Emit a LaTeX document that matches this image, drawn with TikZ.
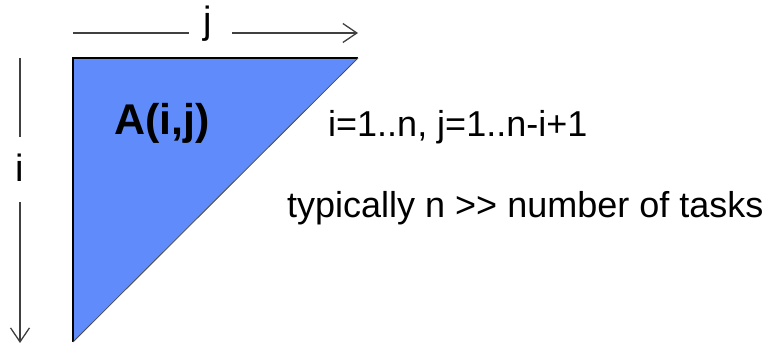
\documentclass[tikz,border=0pt]{standalone}
\usepackage{fontspec}
\setmainfont[Ligatures=NoCommon]{Liberation Sans}
\usetikzlibrary{arrows.meta}
\definecolor{triblue}{HTML}{5F8CFA}
\definecolor{axisgray}{HTML}{404040}
\tikzset{
  axisline/.style={draw=axisgray, line width=1.3pt},
  axisarrow/.style={axisline, -{Straight Barb[length=14pt,width=19pt,line width=1.3pt]}},
  lbl/.style={inner sep=0pt, anchor=base, font=\fontsize{38}{40}\selectfont},
  txt/.style={inner sep=0pt, anchor=base west, font=\fontsize{36}{40}\selectfont},
}
\begin{document}
\begin{tikzpicture}[x=1pt,y=-1pt]
\useasboundingbox (0,0) rectangle (772,344);
% triangle
\coordinate (tl) at (73,58);
\coordinate (tr) at (358,58);
\coordinate (bl) at (73,342);
\fill[triblue] (tl) -- (tr) -- (bl) -- cycle;
\draw[black, line width=1.2pt] (bl) -- (tl) -- (tr);
\draw[black!70, line width=0.8pt] (tr) -- (bl);
% j axis
\node[lbl] (jl) at (208,34) {j};
\coordinate (j0) at (73,33);
\coordinate (j1) at (189,33);
\coordinate (j2) at (232,33);
\coordinate (j3) at (358,33);
\draw[axisline] (j0) -- (j1);
\draw[axisarrow] (j2) -- (j3);
% i axis
\node[lbl] (il) at (20,182) {i};
\coordinate (i0) at (20,58);
\coordinate (i1) at (20,137);
\coordinate (i2) at (20,202);
\coordinate (i3) at (20,343);
\draw[axisline] (i0) -- (i1);
\draw[axisarrow] (i2) -- (i3);
% texts
\node[inner sep=0pt, anchor=base west, font=\bfseries\fontsize{43}{44}\selectfont] (A) at (114,135) {A(i,j)};
\node[txt] (r) at (328,137) {i=1..n, j=1..n-i+1};
\node[txt] (t) at (287,218) {typically n {>}{>} number of tasks};
\end{tikzpicture}
\end{document}
